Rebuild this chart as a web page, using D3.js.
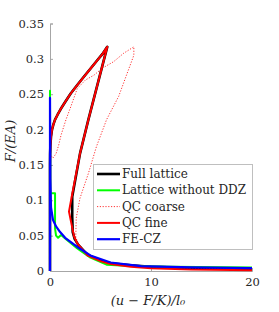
<!DOCTYPE html>
<html>
<head>
<meta charset="utf-8">
<script src="https://cdn.jsdelivr.net/npm/d3@7"></script>
<style>
  body { margin: 0; background: #fff; }
  text { font-family: "DejaVu Serif", serif; fill: #262626; }
</style>
</head>
<body>
<svg id="chart" width="279" height="312"></svg>
<script>
// data
var fullX = [0, 0, 0.01, 0.04, 0.1, 0.2, 0.33, 0.5, 0.75, 1.06, 1.5, 2.05, 2.7, 3.37, 4.0, 4.68, 5.2, 5.67, 3.8, 2.97, 2.2, 2.2, 2.25, 2.45, 2.8, 3.7, 5, 6, 8, 10, 14, 20];
var fullY = [0, 0.15, 0.165, 0.178, 0.19, 0.2, 0.207, 0.214, 0.221, 0.229, 0.239, 0.251, 0.263, 0.275, 0.286, 0.298, 0.307, 0.317, 0.214, 0.166, 0.105, 0.077, 0.055, 0.045, 0.037, 0.023, 0.015, 0.011, 0.008, 0.006, 0.004, 0.003];

var noDdzX = [0, 0, 0.02, 0.5, 0.5, 0.6, 0.8, 1.1, 1.5, 2.7, 4, 5.6, 8, 12, 20];
var noDdzY = [0, 0.255, 0.11, 0.11, 0.06, 0.05, 0.047, 0.051, 0.046, 0.032, 0.019, 0.009, 0.007, 0.006, 0.005];

var coarseX = [0.1, 0.3, 0.6, 0.86, 1.09, 1.58, 2.05, 2.7, 3.5, 4.36, 5.2, 6.3, 7.3, 8.3, 8.3, 7.65, 6.8, 5.6, 4.6, 3.8, 2.97, 2.6, 2.55, 2.8, 3.7, 5, 6, 8, 10, 14, 20];
var coarseY = [0.163, 0.16, 0.166, 0.178, 0.192, 0.214, 0.232, 0.258, 0.27, 0.277, 0.287, 0.296, 0.308, 0.317, 0.305, 0.28, 0.247, 0.214, 0.176, 0.138, 0.103, 0.075, 0.048, 0.038, 0.023, 0.015, 0.011, 0.008, 0.006, 0.004, 0.003];

var fineX = [0, 0, 0.01, 0.04, 0.1, 0.2, 0.33, 0.5, 0.75, 1.06, 1.5, 2.05, 2.7, 3.37, 4.0, 4.68, 5.2, 5.67, 3.8, 2.97, 2.15, 1.88, 2.05, 2.38, 2.7, 3.7, 5, 6, 8, 10, 14, 20];
var fineY = [0, 0.15, 0.165, 0.178, 0.19, 0.2, 0.207, 0.214, 0.221, 0.229, 0.239, 0.251, 0.263, 0.275, 0.286, 0.298, 0.307, 0.317, 0.214, 0.166, 0.105, 0.084, 0.072, 0.049, 0.039, 0.022, 0.014, 0.01, 0.006, 0.004, 0.002, 0.001];

var czX = [0, 0, 0.03, 0.1, 0.3, 0.6, 1.0, 1.5, 2.7, 4, 6, 9, 14, 20];
var czY = [0, 0.245, 0.13, 0.09, 0.072, 0.063, 0.055, 0.047, 0.034, 0.022, 0.012, 0.007, 0.005, 0.004];

var xTicks = [0, 10, 20];
var yTicks = [0, 0.05, 0.1, 0.15, 0.2, 0.25, 0.3, 0.35];

var series = [
    {name: 'Full lattice', xs: fullX, ys: fullY, color: '#000000', width: 2.6, dash: null},
    {name: 'Lattice without DDZ', xs: noDdzX, ys: noDdzY, color: '#00ff00', width: 2, dash: null},
    {name: 'QC coarse', xs: coarseX, ys: coarseY, color: '#ff0000', width: 0.8, dash: '1.2,1.6'},
    {name: 'QC fine', xs: fineX, ys: fineY, color: '#ff0000', width: 2, dash: null},
    {name: 'FE-CZ', xs: czX, ys: czY, color: '#0000ff', width: 2.2, dash: null}
];

var svg = d3.select('#chart');

var x = d3.scaleLinear().domain([0, 20]).range([50, 252]);
var y = d3.scaleLinear().domain([0, 0.35]).range([271, 23.5]);

var axisColor = '#a6a6a6';

// axes (only left and bottom, ticks pointing inward)
var xAxis = svg.append('g')
    .attr('transform', `translate(0, ${y(0)})`)
    .call(d3.axisBottom(x).tickValues(xTicks).tickSize(-3).tickPadding(7).tickFormat(d3.format('d')));
var yAxis = svg.append('g')
    .attr('transform', `translate(${x(0)}, 0)`)
    .call(d3.axisLeft(y).tickValues(yTicks).tickSize(-3).tickPadding(6).tickFormat(d => d === 0 ? '0' : d3.format('.2~f')(d)));

[xAxis, yAxis].forEach(function (g) {
    g.attr('font-family', null);
    g.select('.domain').attr('stroke', axisColor).attr('stroke-width', 1);
    g.selectAll('.tick line').attr('stroke', axisColor);
    g.selectAll('.tick text')
        .attr('fill', '#262626')
        .style('font-family', '"DejaVu Serif", serif')
        .style('font-size', '11.5px');
});

// curves
var line = d3.line()
    .x(d => x(d[0]))
    .y(d => y(d[1]));

series.forEach(function (s) {
    var pts = s.xs.map((v, i) => [v, s.ys[i]]);
    svg.append('path')
        .datum(pts)
        .attr('fill', 'none')
        .attr('stroke', s.color)
        .attr('stroke-width', s.width)
        .attr('stroke-linejoin', 'round')
        .attr('stroke-dasharray', s.dash)
        .attr('d', line);
});

// axis labels
svg.append('text')
    .attr('x', 148)
    .attr('y', 305)
    .attr('text-anchor', 'middle')
    .style('font-size', '13px')
    .style('font-style', 'italic')
    .text('(u \u2212 F/K)/l\u2080');

svg.append('text')
    .attr('transform', 'translate(15, 141) rotate(-90)')
    .attr('text-anchor', 'middle')
    .style('font-size', '13px')
    .style('font-style', 'italic')
    .text('F/(EA)');

// legend
var legend = svg.append('g');
legend.append('rect')
    .attr('x', 93.5)
    .attr('y', 164.5)
    .attr('width', 159)
    .attr('height', 85)
    .attr('fill', '#ffffff')
    .attr('stroke', '#bfbfbf')
    .attr('stroke-width', 1);

series.forEach(function (s, i) {
    var ly = 174 + i * 16.3;
    legend.append('line')
        .attr('x1', 97)
        .attr('x2', 120)
        .attr('y1', ly)
        .attr('y2', ly)
        .attr('stroke', s.color)
        .attr('stroke-width', s.width)
        .attr('stroke-dasharray', s.dash);
    legend.append('text')
        .attr('x', 122)
        .attr('y', ly + 4)
        .style('font-size', '12px')
        .text(s.name);
});
</script>
</body>
</html>
